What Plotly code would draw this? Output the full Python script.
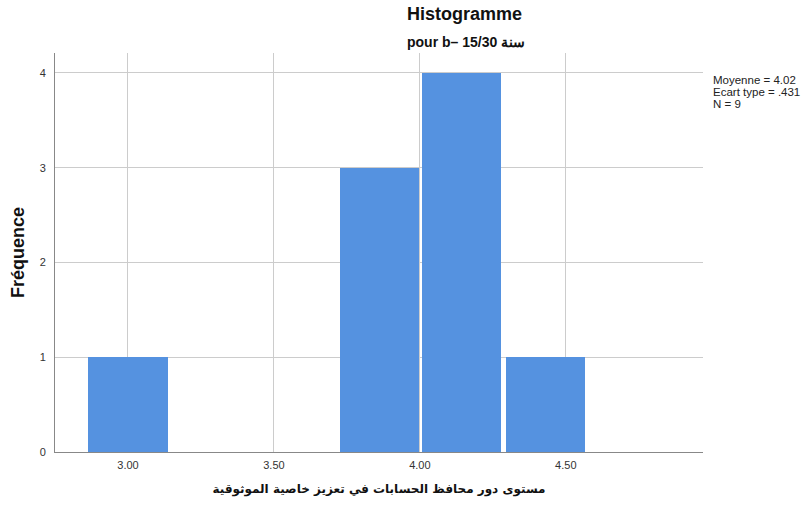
import plotly.graph_objects as go

# Histogram data (bin centers and frequencies)
bin_centers = [3.0, 3.861, 4.142, 4.430]
counts = [1, 3, 4, 1]
bin_width = 0.271

x_ticks = [3.0, 3.5, 4.0, 4.5]
y_ticks = [0, 1, 2, 3, 4]

stats_lines = ["Moyenne = 4.02", "Ecart type = .431", "N = 9"]

W, H = 801, 510
L, R, T, B = 55, 98, 53, 58

fig = go.Figure()
fig.add_trace(go.Bar(
    x=bin_centers, y=counts, width=[bin_width] * len(bin_centers),
    marker=dict(color="#5592e0", line=dict(width=0)),
    showlegend=False,
))

fig.update_layout(
    width=W, height=H,
    margin=dict(l=L, r=R, t=T, b=B),
    paper_bgcolor="white", plot_bgcolor="white",
    font=dict(family="Liberation Sans, Arial, sans-serif", size=11, color="#333333"),
    bargap=0,
    xaxis=dict(
        range=[2.75, 4.97], tickvals=x_ticks, tickformat=".2f",
        showgrid=True, gridcolor="#cccccc", gridwidth=1,
        showline=True, linecolor="#888888", linewidth=1,
        ticks="", zeroline=False, ticklabelstandoff=3,
        title=dict(text="<b>مستوى دور محافظ الحسابات في تعزيز خاصية الموثوقية</b>",
                   font=dict(size=12, color="#111111",
                             family="DejaVu Sans, Liberation Sans, sans-serif"),
                   standoff=14),
    ),
    yaxis=dict(
        range=[0, 4.21], tickvals=y_ticks,
        showgrid=True, gridcolor="#cccccc", gridwidth=1,
        showline=True, linecolor="#888888", linewidth=1,
        ticks="", zeroline=False, ticklabelstandoff=6,
        title=dict(text="<b>Fréquence</b>",
                   font=dict(size=18, color="#111111"), standoff=10),
    ),
)

fig.add_annotation(
    text="<b>Histogramme</b>", xref="paper", yref="paper",
    x=(464 - L) / (W - L - R), y=1 + (T - 14) / (H - T - B),
    xanchor="center", yanchor="middle", showarrow=False,
    font=dict(size=18, color="#111111"),
)
fig.add_annotation(
    text="<b>pour b– 15/30 سنة</b>", xref="paper", yref="paper",
    x=(466 - L) / (W - L - R), y=1 + (T - 42) / (H - T - B),
    xanchor="center", yanchor="middle", showarrow=False,
    font=dict(size=14, color="#111111"),
)
for i, line in enumerate(stats_lines):
    fig.add_annotation(
        text=line, xref="paper", yref="paper",
        x=1 + (711 - (W - R)) / (W - L - R),
        y=1 - (80 + 12 * i - T) / (H - T - B),
        xanchor="left", yanchor="middle", align="left", showarrow=False,
        font=dict(size=11.5, color="#222222"),
    )

fig.write_html("out.html")
